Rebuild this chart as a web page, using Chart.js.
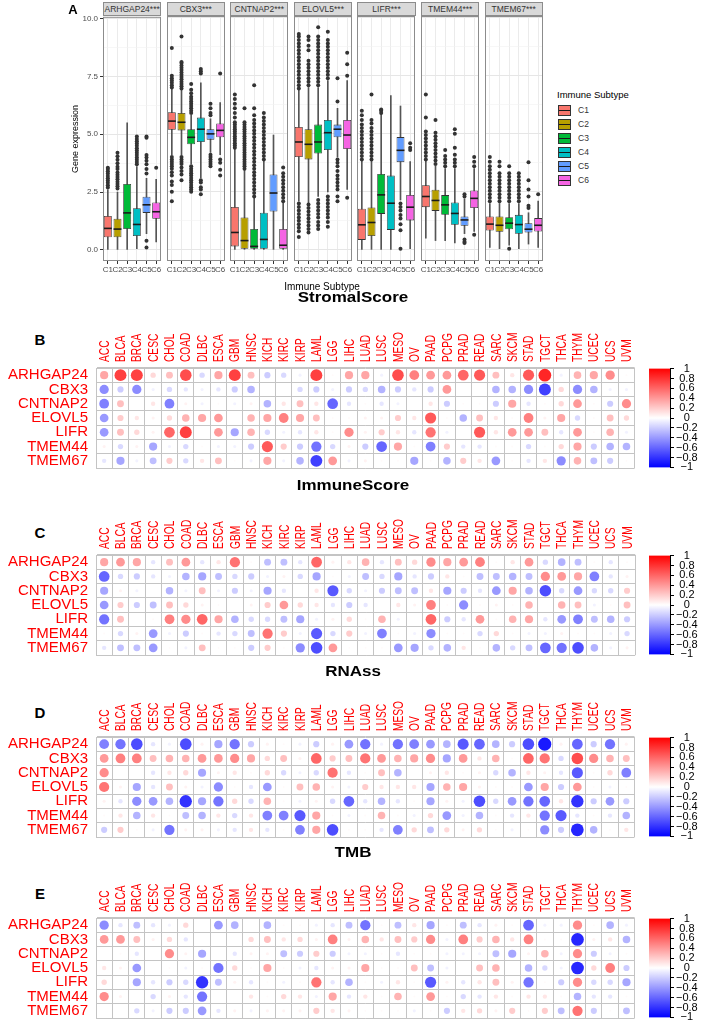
<!DOCTYPE html>
<html>
<head>
<meta charset="utf-8">
<script src="https://cdn.jsdelivr.net/npm/chart.js@4.4.0/dist/chart.umd.min.js"></script>
<style>
  body { margin:0; background:#fff; width:709px; height:1022px; position:relative; overflow:hidden;
         font-family:"Liberation Sans", Arial, sans-serif; }
  canvas { position:absolute; }
  .lbl { position:absolute; white-space:nowrap; line-height:1; }
  .strip { position:absolute; top:2px; height:14px; background:#d9d9d9; border:1px solid #8c8c8c;
           box-sizing:border-box; font-size:8.5px; color:#333; text-align:center; line-height:12px; }
  .key { position:absolute; width:13px; height:11px; border:1px solid #333; box-sizing:border-box; }
  .key div { position:absolute; left:0; right:0; top:4px; height:1.5px; background:#1a1a1a; }
</style>
</head>
<body>
<script>
// ---- panel A : gene expression by immune subtype
const genes = ['ARHGAP24', 'CBX3', 'CNTNAP2', 'ELOVL5', 'LIFR', 'TMEM44', 'TMEM67'];
const subtypes = ['C1', 'C2', 'C3', 'C4', 'C5', 'C6'];
const subtypeColors = ['#F8766D', '#B79F00', '#00BA38', '#00BFC4', '#619CFF', '#F564E3'];
const exprTicks = [0, 1.25, 2.5, 3.75, 5, 6.25, 7.5, 8.75, 10];

const whiskerLow = [
  [0, 0, 0, 0.05, 0.7, 0.35],
  [4.1, 4.1, 3.7, 3.1, 4.2, 4.1],
  [0, 0, 0, 0, 0, 0],
  [2.1, 2.0, 2.3, 2.5, 4.0, 2.6],
  [0, 0, 0, 0, 2.15, 0.05],
  [0.5, 0.4, 0.4, 0.3, 0.7, 0.8],
  [0.1, 0.05, 0.2, 0.05, 0.25, 0.1]
];
const boxQ1 = [
  [0.55, 0.55, 0.9, 0.6, 1.6, 1.35],
  [5.18, 5.15, 4.55, 4.65, 4.75, 4.85],
  [0.15, 0.05, 0.05, 0.05, 1.65, 0.05],
  [4.0, 3.9, 4.15, 4.3, 4.85, 4.35],
  [0.43, 0.6, 1.55, 0.86, 3.78, 1.27],
  [1.84, 1.68, 1.51, 1.08, 1.04, 1.8],
  [0.83, 0.78, 0.89, 0.69, 0.75, 0.79]
];
const boxMedian = [
  [0.93, 0.9, 1.6, 1.1, 1.95, 1.65],
  [5.55, 5.5, 4.85, 5.2, 5.0, 5.15],
  [0.75, 0.4, 0.15, 0.45, 2.45, 0.2],
  [4.65, 4.55, 4.65, 5.05, 5.2, 4.95],
  [1.08, 1.18, 2.37, 2.01, 4.29, 1.84],
  [2.3, 2.13, 1.94, 1.57, 1.29, 2.22],
  [1.11, 1.06, 1.15, 1.09, 0.89, 1.06]
];
const boxQ3 = [
  [1.47, 1.35, 2.85, 1.8, 2.3, 2.05],
  [5.93, 5.9, 5.2, 5.7, 5.2, 5.45],
  [1.85, 1.4, 0.9, 1.6, 3.25, 0.9],
  [5.3, 5.2, 5.4, 5.6, 5.4, 5.6],
  [1.77, 1.83, 3.27, 3.2, 4.86, 2.37],
  [2.79, 2.59, 2.36, 2.04, 1.44, 2.56],
  [1.44, 1.44, 1.41, 1.51, 1.15, 1.37]
];
const whiskerHigh = [
  [2.6, 2.5, 5.5, 3.6, 3.1, 3.05],
  [6.95, 6.9, 5.8, 7.2, 5.65, 6.35],
  [4.35, 3.45, 2.25, 3.85, 4.95, 2.05],
  [6.9, 7.0, 7.0, 7.3, 6.1, 7.3],
  [3.85, 3.85, 5.85, 6.65, 6.2, 3.8],
  [3.85, 3.6, 3.5, 3.5, 2.2, 3.5],
  [2.0, 2.0, 2.0, 2.0, 1.6, 2.1]
];
const outliers = [
  [ // ARHGAP24
    [2.7, 2.8, 2.9, 3.0, 3.1, 3.2, 3.3, 3.4, 3.5, 3.55],
    [2.65, 2.75, 2.85, 2.95, 3.05, 3.15, 3.25, 3.35, 3.5, 3.6, 3.75, 3.9, 4.05, 4.2],
    [],
    [3.7, 3.8, 3.9, 4.0, 4.1, 4.2, 4.3, 4.4, 4.5, 4.6, 4.7, 4.8, 4.9],
    [3.3, 3.5, 3.7, 3.85, 4.0, 4.1, 4.85, 4.9, 0.4, 0.1],
    [3.55]
  ],
  [ // CBX3
    [7.0, 7.1, 7.2, 7.3, 7.4, 7.5, 8.7, 2.1, 2.5, 2.8, 2.95, 3.2, 3.35, 3.5, 3.6, 3.7, 3.8, 3.9, 4.0],
    [6.95, 7.05, 7.15, 7.25, 7.35, 7.45, 7.55, 7.65, 7.75, 7.85, 7.95, 8.05, 8.1, 9.2, 3.0, 3.25, 3.4, 3.55, 3.7, 3.8, 3.9, 4.0],
    [5.9, 6.0, 6.1, 6.2, 6.3, 6.4, 6.5, 6.6, 6.75, 6.9, 7.15, 2.5, 2.6, 2.7, 2.8, 2.9, 3.0, 3.1, 3.2, 3.3, 3.4, 3.5, 3.6],
    [7.6, 7.7, 7.8, 2.4, 2.6, 2.7, 2.9, 3.0],
    [5.8, 5.9, 6.1, 6.3, 3.6, 3.7, 3.8, 3.9, 4.0, 4.1],
    [7.6, 3.2, 3.45, 3.75, 3.9]
  ],
  [ // CNTNAP2
    [4.4, 4.5, 4.6, 4.7, 4.8, 4.9, 5.0, 5.1, 5.2, 5.3, 5.4, 5.5, 5.7, 5.9, 6.1, 6.3, 6.5, 6.7],
    [3.5, 3.6, 3.7, 3.8, 3.9, 4.0, 4.1, 4.2, 4.3, 4.4, 4.5, 4.6, 4.7, 4.8, 4.9, 5.0, 5.1, 5.2, 5.3, 5.4, 5.5, 6.1],
    [2.3, 2.45, 2.6, 2.75, 2.9, 3.05, 3.2, 3.35, 3.5, 3.65, 3.8, 3.95, 4.1, 4.25, 4.4, 4.55, 4.7, 4.85, 5.0, 5.15, 5.3, 5.45, 5.6, 5.8, 6.1, 7.1],
    [3.9, 4.05, 4.2, 4.35, 4.5, 4.65, 4.8, 4.95, 5.1, 5.25, 5.4, 5.55, 5.7, 5.9],
    [],
    [2.1, 2.25, 2.4, 2.55, 2.7, 2.85, 3.0, 3.15, 3.3, 3.55]
  ],
  [ // ELOVL5
    [6.95, 7.1, 7.25, 7.4, 7.55, 7.7, 7.85, 8.0, 8.15, 8.3, 8.45, 8.6, 8.75, 8.9, 9.05, 9.2, 9.3, 0.55, 0.8, 0.95, 1.1, 1.25, 1.4, 1.55, 1.7, 1.85, 2.0],
    [7.1, 7.25, 7.4, 7.55, 7.7, 7.85, 8.0, 8.15, 8.6, 8.8, 9.05, 9.2, 0.75, 0.9, 1.05, 1.2, 1.35, 1.5, 1.65, 1.8, 1.95],
    [7.1, 7.25, 7.4, 7.55, 7.7, 7.85, 8.0, 8.15, 8.3, 8.45, 8.6, 8.75, 8.9, 9.05, 9.2, 9.6, 0.9, 1.05, 1.2, 1.4, 1.55, 1.7, 1.85, 2.0, 2.15],
    [7.4, 7.55, 7.7, 7.85, 8.0, 8.15, 8.3, 8.45, 8.6, 8.75, 8.9, 9.05, 9.4, 1.0, 1.2, 1.4, 1.55, 1.7, 1.85, 2.0, 2.15, 2.3],
    [6.4, 7.4, 2.1, 2.3, 2.6, 2.75, 2.9, 3.05, 3.2, 3.4, 3.6, 3.75, 3.9],
    [7.5, 8.0, 8.5, 2.25]
  ],
  [ // LIFR
    [3.9, 4.05, 4.2, 4.35, 4.5, 4.65, 4.8, 4.95, 5.1, 5.25, 5.4, 5.6, 5.8, 6.0],
    [3.9, 4.05, 4.2, 4.35, 4.5, 4.65, 4.8, 4.95, 5.1, 5.25, 5.45, 5.6, 6.7],
    [5.9, 6.0, 6.05],
    [],
    [2.0, 1.85, 1.7, 1.5, 1.35, 1.1, 0.85, 0.05],
    [4.3, 4.4, 4.6]
  ],
  [ // TMEM44
    [3.9, 4.05, 4.2, 4.35, 4.5, 4.65, 4.8, 4.95, 5.1, 5.7, 6.7],
    [3.7, 3.85, 4.0, 4.15, 4.3, 4.45, 4.6, 4.75, 4.9, 5.05, 5.6],
    [3.6, 3.75, 3.9, 4.05, 4.3],
    [3.6, 3.75, 3.9, 4.1, 4.4, 5.0, 5.2],
    [2.3, 2.4, 0.3, 0.35, 0.45],
    [3.6, 3.8, 4.0, 0.65]
  ],
  [ // TMEM67
    [2.1, 2.25, 2.4, 2.55, 2.7, 2.85, 3.0, 3.15, 3.3, 3.45, 3.6, 3.8, 4.0],
    [2.1, 2.25, 2.4, 2.55, 2.7, 2.85, 3.0, 3.15, 3.3, 3.6, 3.8],
    [2.1, 2.25, 2.4, 2.55, 2.7, 2.85, 3.0, 3.15, 3.3, 3.6, 0.05],
    [2.1, 2.25, 2.4, 2.55, 2.7, 2.85, 3.0, 3.15, 3.3],
    [1.8, 1.9, 2.3, 2.6, 3.0, 3.78],
    [2.4]
  ]
];

// ---- panels B-E : correlation of each gene with scores across cancers
const cancers = ['ACC', 'BLCA', 'BRCA', 'CESC', 'CHOL', 'COAD', 'DLBC', 'ESCA', 'GBM', 'HNSC', 'KICH',
  'KIRC', 'KIRP', 'LAML', 'LGG', 'LIHC', 'LUAD', 'LUSC', 'MESO', 'OV', 'PAAD', 'PCPG', 'PRAD', 'READ',
  'SARC', 'SKCM', 'STAD', 'TGCT', 'THCA', 'THYM', 'UCEC', 'UCS', 'UVM'];
const colorBarTicks = [-1, -0.8, -0.6, -0.4, -0.2, 0, 0.2, 0.4, 0.6, 0.8, 1];

const stromalScore = [
  [0.35,0.75,0.75,0.15,0.25,0.7,-0.15,0.35,0.75,0.25, -0.2,-0.15,-0.05,0.75,0.02,0.35,0.35,-0.05,0.7,0.5, 0.4,0.4,0.6,0.65,0.25,0.1,0.65,0.85,-0.05,0.3, 0.35,0.45,0.02],
  [-0.45,-0.2,-0.45,-0.05,-0.15,-0.1,-0.05,-0.1,-0.2,-0.3, 0,0,-0.15,-0.2,-0.05,-0.2,-0.15,-0.3,-0.2,-0.1, -0.2,0.4,0,0,-0.3,-0.3,-0.45,-0.75,0.15,-0.45, -0.3,-0.05,-0.05],
  [-0.5,0.25,0,0.1,-0.5,0.05,-0.05,0.02,-0.05,0.05, -0.3,0.1,0.25,0.1,-0.6,-0.1,0.02,-0.1,-0.05,0, 0.1,-0.2,0.02,0.02,-0.2,0.35,-0.1,0.02,0.15,0.4, 0.02,-0.2,0.45],
  [-0.4,0.2,0.1,0.05,0.15,0.3,0.35,0.4,0,0.3, 0.35,0.5,0.35,0.25,0.02,0.02,0.05,0.05,0.2,0.1, 0.65,0.02,-0.3,0.25,0.1,0.02,0.5,0.05,0.35,-0.15, 0.02,0.25,0.15],
  [-0.4,0.25,0.15,0.05,0.6,0.75,0,0.4,-0.35,0.3, -0.15,-0.05,-0.1,0.1,0.02,0.45,0.05,0.2,0.1,-0.1, 0.55,-0.05,0,0.65,0.1,0.4,0.4,0.25,-0.1,0.4, 0.02,0.3,-0.05],
  [0.05,-0.15,0.05,-0.35,-0.05,-0.15,0.02,-0.05,-0.05,-0.2, 0.65,0.2,-0.2,-0.55,-0.15,0.05,-0.2,-0.6,0.35,0.02, -0.5,0.2,-0.1,-0.1,0.02,0.02,-0.15,0.02,0.15,0.35, -0.2,-0.3,-0.3],
  [-0.1,-0.35,-0.05,-0.25,0.2,-0.15,0.1,0.25,0.02,-0.05, 0.35,-0.05,-0.3,-0.75,0.4,-0.05,0.05,0.02,0.02,-0.35, 0.02,-0.3,0.2,0.1,-0.4,0.02,-0.1,0.1,-0.45,0.3, -0.25,-0.2,0.02]
];
const immuneScore = [
  [0.35,0.4,0.35,-0.1,0.25,0.4,-0.1,0.1,0.55,0.02, -0.25,-0.25,-0.1,0.6,0.05,0.1,0.3,-0.1,0.25,0.15, 0.45,0.35,0.4,0.5,0.02,0.1,0.4,-0.15,-0.3,-0.25, 0.02,-0.1,0.02],
  [-0.6,-0.15,-0.2,-0.1,-0.05,-0.3,-0.35,-0.25,-0.15,-0.2, -0.05,0.05,-0.15,-0.35,0.02,-0.05,-0.25,-0.15,-0.35,-0.1, -0.2,0.1,0.02,-0.25,-0.25,-0.3,-0.25,0.45,0.4,0.35, -0.5,-0.1,0.05],
  [-0.35,0.05,-0.05,0,-0.3,-0.05,0.25,-0.05,-0.2,-0.05, -0.35,-0.1,0,0.1,-0.65,-0.15,-0.05,-0.2,-0.25,-0.25, 0.1,-0.35,-0.2,-0.1,-0.4,0.35,-0.3,-0.7,-0.15,-0.4, -0.15,-0.15,0.2],
  [-0.4,0.2,-0.2,-0.25,0.25,0.15,0.05,0.02,0,0.05, 0.2,0.4,0.15,0.1,-0.1,-0.2,-0.1,0,0.1,0.05, 0.5,0.02,-0.45,0.02,0.05,0.02,0.3,0,0.3,0.25, -0.05,0.02,0.25],
  [-0.55,0.25,0,0.02,0.5,0.45,0.6,0.35,-0.3,-0.15, -0.15,-0.25,-0.35,-0.05,0.05,0.15,0.02,0.3,-0.05,0, 0.6,-0.2,-0.1,0.4,0.02,0.3,0.35,-0.1,-0.4,-0.5, -0.25,-0.3,-0.2],
  [0.02,-0.15,0.05,-0.4,-0.05,-0.2,0.02,-0.1,-0.15,-0.25, 0.55,0.2,-0.05,-0.65,-0.15,0.2,-0.05,-0.5,0.02,-0.05, -0.45,0.02,0.02,-0.15,0.15,0.02,-0.05,-0.05,0.05,0.02, 0.02,-0.05,-0.15],
  [-0.1,-0.25,-0.25,-0.4,0.02,-0.05,0.25,0.02,0.02,-0.2, 0.2,0.02,-0.45,-0.7,0.4,0.02,0.02,0.02,-0.4,-0.35, -0.15,-0.3,0.1,0.02,-0.3,-0.15,-0.25,-0.6,-0.55,-0.7, -0.3,-0.05,0.05]
];
const rnass = [
  [-0.5,-0.55,-0.7,-0.1,-0.05,-0.7,0.05,-0.35,-0.55,-0.2, 0.05,0.02,-0.05,-0.2,0.05,-0.4,-0.55,-0.05,-0.55,-0.5, -0.4,-0.3,-0.65,-0.6,-0.3,-0.2,-0.7,-0.9,0.05,-0.6, -0.2,-0.55,0.05],
  [0.4,0.5,0.5,0.25,0.3,0.3,0.4,0.4,0.45,0.35, 0.15,0.25,0.05,0.6,0.2,0.25,0.55,0.4,0.3,0.35, 0.45,-0.35,0.4,0.1,0.3,0.02,0.6,0.55,-0.15,0.7, 0.45,0.3,0.25],
  [0.45,0,0,-0.1,0.1,0.15,-0.35,0.05,0.1,0.02, 0.15,-0.15,-0.05,-0.15,0.55,-0.1,0.02,0.25,-0.3,0, 0.05,0.1,0.02,0.05,-0.15,-0.3,0.1,0.05,-0.1,-0.65, 0.02,0.15,-0.5],
  [0.55,0.05,-0.35,-0.1,0.25,0.05,-0.05,-0.45,0.02,-0.1, -0.4,0.02,0.25,0.3,0.05,-0.05,0.2,0.1,0.1,0.1, -0.35,0.3,0.35,0.05,0.02,0.02,-0.4,0.35,-0.2,0.4, 0.02,-0.05,0.02],
  [0.05,-0.1,-0.45,-0.4,-0.3,-0.8,-0.35,-0.55,0.15,-0.15, 0.3,0.02,-0.05,0.05,-0.15,-0.6,-0.1,-0.3,-0.1,0.02, -0.35,0.05,-0.05,-0.7,-0.15,-0.4,-0.55,-0.6,0.1,-0.8, -0.2,-0.4,-0.2],
  [0.02,0.1,-0.3,0.1,0.02,-0.25,-0.3,0.1,-0.15,0.1, -0.5,-0.5,-0.65,0.35,0.02,-0.05,0.02,0.3,0.02,-0.05, 0.15,-0.4,-0.05,-0.3,0.02,-0.1,0.1,-0.55,-0.65,-0.1, 0.02,-0.1,-0.3],
  [-0.2,0.2,0.02,-0.05,-0.55,0.05,0.05,-0.05,-0.1,0.1, -0.1,0.02,-0.5,0.35,-0.7,0.02,0.02,-0.1,-0.5,0.15, -0.25,0.15,0.05,0.15,0.02,-0.05,0.02,-0.45,-0.2,-0.85, -0.3,0.02,0.1]
];
const tmb = [
  [-0.45,-0.1,-0.25,-0.1,-0.05,0.15,0,-0.4,-0.3,0, -0.3,0.02,0.02,-0.05,-0.1,-0.25,-0.55,0.02,-0.25,0.1, -0.35,0.02,-0.25,-0.1,0.05,0.02,-0.6,-0.05,-0.05,0.45, 0.02,-0.3,-0.05],
  [0.4,0.4,0.25,0.05,0.15,-0.1,0,0,0,0.15, 0.25,0.1,0.15,0.05,0.5,0.05,0.3,0.1,0.25,0.2, 0.45,-0.05,0.5,0.2,0.3,0.1,0.5,0.02,0.02,-0.85, 0.05,0.1,-0.3],
  [0,0.02,-0.1,0,0.45,0.05,-0.35,0,-0.1,0.05, 0.05,-0.25,-0.2,0.2,-0.2,-0.05,-0.05,0.02,-0.1,0.02, 0.02,-0.05,-0.05,-0.05,-0.25,-0.35,0.05,0.3,-0.05,0.45, -0.2,-0.05,0.02],
  [0.1,0.05,-0.4,0,0.02,-0.05,0.02,-0.55,0.15,0.02, 0.35,0.02,-0.05,-0.1,0.05,0.05,0.35,0.02,0.02,0.25, -0.25,-0.05,0,0.25,0.3,0,-0.3,-0.15,-0.05,-0.85, 0.15,0.5,-0.2],
  [0.15,0,-0.35,-0.1,-0.2,-0.15,-0.8,-0.25,0.05,-0.1, 0.02,-0.05,0.02,0.55,-0.1,-0.3,0.02,-0.05,0.1,0.02, -0.65,0.05,-0.1,0.1,0.25,0.05,-0.55,0.02,-0.2,0.45, -0.15,-0.15,-0.35],
  [0.45,0.05,0,-0.15,0.05,-0.1,-0.55,0,0,0.1, 0.02,0.15,0.1,-0.05,0.35,-0.1,0.1,0.02,0.3,0.02, 0.4,0.02,-0.15,-0.1,0.1,0.02,0.1,0.1,0.02,-0.3, -0.1,-0.1,0.02],
  [0,0,-0.15,-0.05,-0.2,-0.2,-0.4,-0.1,0.05,-0.05, 0.05,0.05,0.05,0.2,0.1,0.05,0.02,0.02,0.02,-0.05, 0.02,-0.2,0.1,0.15,0.05,0.2,0.02,0.2,-0.25,0.55, -0.2,0.02,-0.25]
];

Chart.defaults.font.family = '"Liberation Sans", Arial, sans-serif';
Chart.defaults.animation = false;
Chart.defaults.events = [];

function addText(txt, x, y, css) {
  const d = document.createElement('div');
  d.className = 'lbl';
  d.textContent = txt;
  d.style.left = x + 'px';
  d.style.top = y + 'px';
  d.style.transform = 'translate(-50%,-50%)';
  Object.assign(d.style, css || {});
  document.body.appendChild(d);
  return d;
}
function addCanvas(left, top, w, h) {
  const c = document.createElement('canvas');
  c.width = w; c.height = h;
  c.style.left = left + 'px';
  c.style.top = top + 'px';
  document.body.appendChild(c);
  return c;
}

// median line + panel border for the box plots
const boxExtras = {
  id: 'boxExtras',
  afterDatasetsDraw(chart, args, opts) {
    const ctx = chart.ctx, ys = chart.scales.y;
    const meta = chart.getDatasetMeta(1);
    ctx.save();
    ctx.strokeStyle = '#1a1a1a';
    ctx.lineWidth = 1.6;
    meta.data.forEach((bar, i) => {
      const y = ys.getPixelForValue(opts.medians[i]);
      ctx.beginPath();
      ctx.moveTo(bar.x - bar.width / 2, y);
      ctx.lineTo(bar.x + bar.width / 2, y);
      ctx.stroke();
    });
    const a = chart.chartArea;
    ctx.strokeStyle = '#8c8c8c';
    ctx.lineWidth = 1;
    ctx.strokeRect(a.left + 0.5, a.top + 0.5, a.width - 1, a.height - 1);
    ctx.restore();
  }
};

const isMajor = v => Math.abs(v / 2.5 - Math.round(v / 2.5)) < 1e-6;

const facetLeft = [103, 166.6, 230.2, 293.8, 357.4, 421, 484.6];
const facetW = 58.3;

genes.forEach((gene, gi) => {
  const first = gi === 0;
  const yW = first ? 43 : 0;
  const cv = addCanvas(facetLeft[gi] - 4 - yW, 10, Math.round(facetW + 8 + yW), 265);

  const pts = [];
  subtypes.forEach((s, si) => outliers[gi][si].forEach(v => pts.push({ x: s, y: v })));

  new Chart(cv, {
    type: 'bar',
    data: {
      labels: subtypes,
      datasets: [
        { type: 'line', data: pts, showLine: false, pointRadius: 2, pointBorderWidth: 0,
          pointBackgroundColor: '#333' },
        { type: 'bar', data: subtypes.map((s, si) => [boxQ1[gi][si], boxQ3[gi][si]]),
          backgroundColor: subtypeColors, borderColor: '#333', borderWidth: 0.8, borderSkipped: false,
          barPercentage: 0.82, categoryPercentage: 1, grouped: false },
        { type: 'bar', data: subtypes.map((s, si) => [whiskerLow[gi][si], whiskerHigh[gi][si]]),
          backgroundColor: '#555', barThickness: 1, grouped: false }
      ]
    },
    options: {
      responsive: false,
      devicePixelRatio: 1,
      layout: { padding: { top: 6, left: 4, right: 4, bottom: 0 } },
      plugins: { legend: { display: false }, tooltip: { enabled: false }, boxExtras: { medians: boxMedian[gi] } },
      scales: {
        x: {
          offset: true,
          grid: { offset: false, color: '#ebebeb', tickLength: 3, tickColor: '#333' },
          border: { display: false },
          ticks: { autoSkip: false, maxRotation: 0, minRotation: 0, font: { size: 8 }, color: '#4d4d4d', padding: 1 },
          afterFit: s => { s.height = 14; }
        },
        y: {
          min: -0.48, max: 10.08,
          afterBuildTicks: s => { s.ticks = exprTicks.map(v => ({ value: v })); },
          afterFit: s => { s.width = yW; },
          ticks: { display: first, autoSkip: false, font: { size: 8 }, color: '#4d4d4d', padding: 2,
                   callback: v => isMajor(v) ? v.toFixed(1) : '' },
          grid: {
            color: c => isMajor(c.tick.value) ? '#e6e6e6' : '#f2f2f2',
            lineWidth: c => isMajor(c.tick.value) ? 1 : 0.6,
            drawTicks: first, tickLength: 3,
            tickColor: c => isMajor(c.tick.value) ? '#333' : 'rgba(0,0,0,0)'
          },
          border: { display: false },
          title: { display: first, text: 'Gene expression', font: { size: 9 }, color: '#000', padding: { top: 10, bottom: 0 } }
        }
      }
    },
    plugins: [boxExtras]
  });

  const st = document.createElement('div');
  st.className = 'strip';
  st.style.left = facetLeft[gi] + 'px';
  st.style.width = facetW + 'px';
  st.textContent = gene + '***';
  document.body.appendChild(st);
});

addText('A', 73, 9, { font: 'bold 13px "Liberation Sans", Arial' });
addText('Immune Subtype', 322, 287, { fontSize: '10px' });
addText('Immune Subtype', 557, 95, { fontSize: '9.5px', transform: 'translate(0,-50%)' });
subtypes.forEach((s, i) => {
  const k = document.createElement('div');
  k.className = 'key';
  k.style.left = '558px';
  k.style.top = (104.5 + i * 14) + 'px';
  k.style.background = subtypeColors[i];
  k.appendChild(document.createElement('div'));
  document.body.appendChild(k);
  addText(s, 578, 110 + i * 14, { fontSize: '8.5px', color: '#333', transform: 'translate(0,-50%)' });
});

// ---- correlation panels
function corrColor(v) {
  const t = Math.min(1, Math.abs(v));
  const c = Math.round(255 * (1 - t));
  return v >= 0 ? `rgb(255,${c},${c})` : `rgb(${c},${c},255)`;
}

const colLabels = {
  id: 'colLabels',
  afterDraw(chart) {
    const xs = chart.scales.x, ctx = chart.ctx;
    ctx.save();
    ctx.fillStyle = '#ff0000';
    ctx.font = '15px "Liberation Sans", Arial';
    ctx.textAlign = 'left';
    ctx.textBaseline = 'middle';
    xs.ticks.forEach((t, i) => {
      ctx.save();
      ctx.translate(xs.getPixelForTick(i) + 0.5, chart.chartArea.top - 6);
      ctx.rotate(-Math.PI / 2);
      ctx.scale(0.68, 1);
      ctx.fillText(xs.getLabelForValue(t.value), 0, 0);
      ctx.restore();
    });
    ctx.restore();
  }
};

const corrPanels = [
  { title: 'StromalScore', tag: 'B', values: stromalScore, gridTop: 368, titleY: 298, tagY: 339 },
  { title: 'ImmuneScore', tag: 'C', values: immuneScore, gridTop: 555, titleY: 486, tagY: 532 },
  { title: 'RNAss', tag: 'D', values: rnass, gridTop: 737, titleY: 672, tagY: 712 },
  { title: 'TMB', tag: 'E', values: tmb, gridTop: 918, titleY: 853, tagY: 893 }
];
const gridH = 100;

corrPanels.forEach(p => {
  addText(p.title, 353, p.titleY, { font: 'bold 17px "Liberation Sans", Arial', transform: 'translate(-50%,-50%) scaleY(0.82)' });
  addText(p.tag, 40, p.tagY, { font: 'bold 15px "Liberation Sans", Arial' });

  const pts = [], cols = [];
  genes.forEach((g, gi) => cancers.forEach((c, ci) => {
    const v = p.values[gi][ci];
    pts.push({ x: c, y: g, r: 6.9 * Math.sqrt(Math.abs(v)) });
    cols.push(corrColor(v));
  }));

  const cv = addCanvas(0, p.gridTop - 44, 641, 44 + gridH + 20);
  new Chart(cv, {
    type: 'bubble',
    data: { datasets: [{ data: pts, backgroundColor: cols, borderWidth: 0 }] },
    options: {
      responsive: false,
      devicePixelRatio: 1,
      layout: { padding: { top: 0, left: 0, right: 2, bottom: 20 } },
      plugins: { legend: { display: false }, tooltip: { enabled: false } },
      scales: {
        x: {
          type: 'category', labels: cancers, position: 'top', offset: true,
          grid: { offset: true, color: '#c4c4c4', drawTicks: false },
          border: { color: '#c4c4c4' },
          ticks: { display: false },
          afterFit: s => { s.height = 44; }
        },
        y: {
          type: 'category', labels: genes, offset: true,
          grid: { offset: true, color: '#c4c4c4', drawTicks: false },
          border: { color: '#c4c4c4' },
          ticks: { color: '#ff0000', font: { size: 15 }, padding: 8, autoSkip: false },
          afterFit: s => { s.width = 96; }
        }
      }
    },
    plugins: [colLabels]
  });

  // colour key
  const cb = addCanvas(649, p.gridTop - 8, 53, gridH + 16);
  new Chart(cb, {
    type: 'bar',
    data: {
      labels: [''],
      datasets: [{
        data: [[colorBarTicks[0], colorBarTicks[colorBarTicks.length - 1]]],
        barPercentage: 1, categoryPercentage: 1, borderWidth: 0,
        backgroundColor: c => {
          const a = c.chart.chartArea;
          if (!a) return '#fff';
          const g = c.chart.ctx.createLinearGradient(0, a.bottom, 0, a.top);
          g.addColorStop(0, '#0000ff');
          g.addColorStop(0.5, '#ffffff');
          g.addColorStop(1, '#ff0000');
          return g;
        }
      }]
    },
    options: {
      responsive: false,
      devicePixelRatio: 1,
      layout: { padding: { top: 8, bottom: 8, left: 0, right: 0 } },
      plugins: { legend: { display: false }, tooltip: { enabled: false } },
      scales: {
        x: { display: false },
        y: {
          min: -1, max: 1, position: 'right',
          afterBuildTicks: s => { s.ticks = colorBarTicks.map(v => ({ value: v })); },
          afterFit: s => { s.width = 32; },
          ticks: {
            autoSkip: false, font: { size: 11 }, color: '#000', crossAlign: 'center', padding: 2,
            callback: v => {
              const r = Math.round(v * 10) / 10;
              if (r === 0) return '0';
              const a = Math.abs(r);
              return (r < 0 ? '\u2212' : '') + (a === 1 ? '1' : a.toFixed(1));
            }
          },
          grid: { drawOnChartArea: false, tickLength: 4, tickColor: '#000' },
          border: { display: true, color: '#000' }
        }
      }
    }
  });
});
</script>
</body>
</html>
